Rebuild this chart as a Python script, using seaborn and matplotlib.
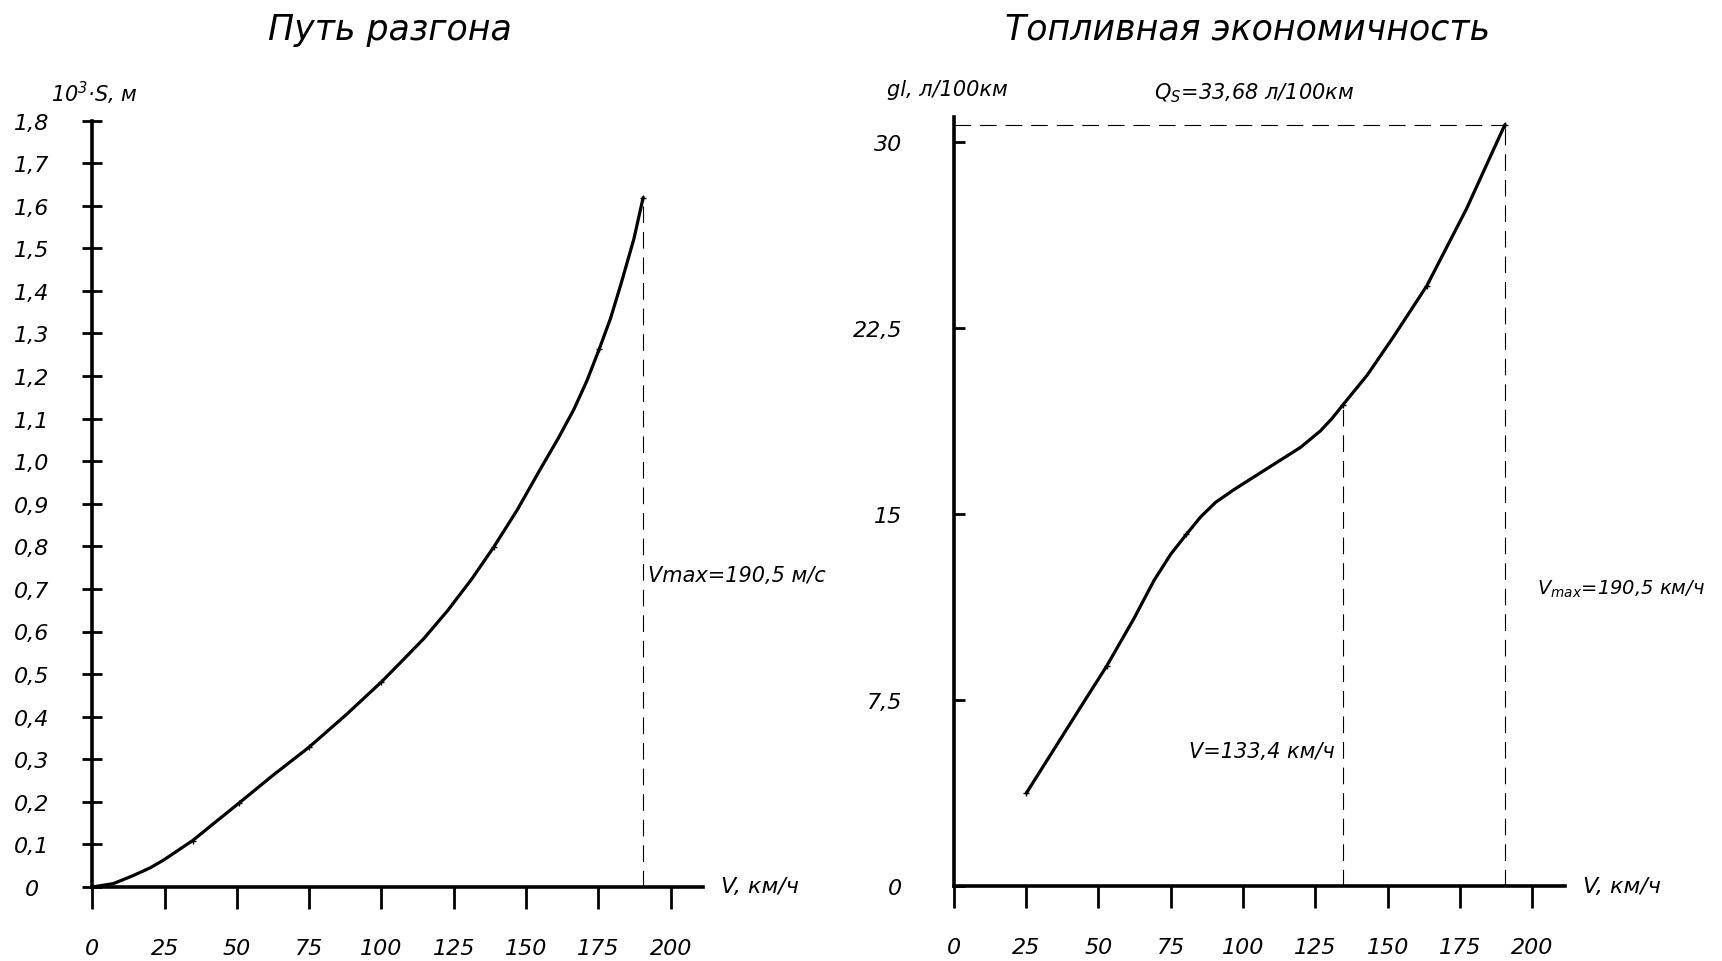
import numpy as np
import pandas as pd
import seaborn as sns
import matplotlib.pyplot as plt

# --- acceleration distance ---
speed_s = [0, 7.3, 14.2, 20.0, 24.6, 34.7, 42.5, 50.9, 62.6, 74.9, 87.7, 99.9,
           107.0, 114.6, 123.0, 131.3, 138.8, 147.0, 155.0, 161.0, 166.5, 171.0,
           175.3, 179.2, 182.7, 187.3, 190.5]
dist_s = [0, 0.008, 0.027, 0.045, 0.063, 0.109, 0.152, 0.198, 0.263, 0.328, 0.404,
          0.481, 0.530, 0.583, 0.650, 0.724, 0.798, 0.886, 0.982, 1.052, 1.121, 1.188,
          1.263, 1.335, 1.413, 1.522, 1.619]
mark_speed_s = [0, 34.7, 50.9, 74.9, 99.9, 138.8, 175.3, 190.5]
mark_dist_s = [0, 0.109, 0.198, 0.328, 0.481, 0.798, 1.263, 1.619]

# --- fuel economy ---
speed_q = [25.1, 45.6, 52.8, 62.2, 69.2, 75.0, 80.4, 85.3, 90.5, 96.8, 108.4, 119.9,
           126.8, 130.8, 134.5, 142.9, 152.0, 163.5, 177.2, 190.5]
fuel_q = [3.75, 7.54, 8.86, 10.77, 12.32, 13.38, 14.18, 14.88, 15.47, 15.98, 16.84,
          17.69, 18.36, 18.86, 19.40, 20.60, 22.15, 24.2, 27.3, 30.7]
mark_speed_q = [25.1, 52.8, 80.4, 134.5, 163.5, 190.5]
mark_fuel_q = [3.75, 8.86, 14.18, 19.40, 24.2, 30.7]

v_max = 190.5
s_at_vmax = 1.619
q_at_vmax = 30.7
v_econ = 134.5
q_at_econ = 19.40

v_ticks = [0, 25, 50, 75, 100, 125, 150, 175, 200]
s_ticks = [i / 10 for i in range(19)]
s_tick_labels = [f"{t:.1f}".replace(".", ",") if t > 0 else "0" for t in s_ticks]
q_ticks = [0, 7.5, 15, 22.5, 30]
q_tick_labels = ["0", "7,5", "15", "22,5", "30"]

sns.set_theme(style="white")
plt.rcParams["font.family"] = ["DejaVu Sans"]
plt.rcParams["font.style"] = "italic"
plt.rcParams["text.color"] = "black"
plt.rcParams["xtick.color"] = "black"
plt.rcParams["ytick.color"] = "black"

W, H = 1722, 962


def px(x, y):
    return x / W, 1 - y / H


fig = plt.figure(figsize=(W / 100, H / 100), dpi=100)
ax1 = fig.add_axes([92.3 / W, 1 - 888 / H, 611 / W, 766.5 / H])
ax2 = fig.add_axes([953.8 / W, 1 - 887 / H, 611 / W, 768.8 / H])

df_s = pd.DataFrame({"v": speed_s, "s": dist_s})
df_sm = pd.DataFrame({"v": mark_speed_s, "s": mark_dist_s})
df_q = pd.DataFrame({"v": speed_q, "q": fuel_q})
df_qm = pd.DataFrame({"v": mark_speed_q, "q": mark_fuel_q})

sns.lineplot(data=df_s, x="v", y="s", ax=ax1, color="black", linewidth=2.3,
             sort=False, estimator=None, zorder=3)
sns.scatterplot(data=df_sm, x="v", y="s", ax=ax1, color="black", marker="+",
                s=25, linewidth=1.0, zorder=4)
sns.lineplot(data=df_q, x="v", y="q", ax=ax2, color="black", linewidth=2.3,
             sort=False, estimator=None, zorder=3)
sns.scatterplot(data=df_qm, x="v", y="q", ax=ax2, color="black", marker="+",
                s=25, linewidth=1.0, zorder=4)

dash = (0, (15, 8))
ax1.vlines(v_max, 0, s_at_vmax, colors="black", linestyles=dash, linewidth=0.8)
ax2.vlines(v_max, 0, q_at_vmax, colors="black", linestyles=dash, linewidth=0.8)
ax2.vlines(v_econ, 0, q_at_econ, colors="black", linestyles=dash, linewidth=0.8)
ax2.hlines(q_at_vmax, 0, v_max, colors="black", linestyles=dash, linewidth=0.8)

for ax in (ax1, ax2):
    ax.set_facecolor("none")
    for side in ("top", "right"):
        ax.spines[side].set_visible(False)
    for side in ("left", "bottom"):
        ax.spines[side].set_linewidth(2.6)
        ax.spines[side].set_color("black")
    ax.set_xticks(v_ticks)
    ax.set_xticklabels([str(t) for t in v_ticks])
    ax.tick_params(axis="x", direction="out", length=16, width=2, pad=21,
                   labelsize=16, bottom=True)
    ax.set_xlabel("")
    ax.set_ylabel("")
    ax.grid(False)

ax1.set_xlim(0, 211.3)
ax1.set_ylim(0, 1.8)
ax1.set_yticks(s_ticks)
ax1.set_yticklabels(s_tick_labels)
ax1.tick_params(axis="y", direction="inout", length=14, width=2, pad=36.7,
                labelsize=16, left=True)
for lab in ax1.get_yticklabels():
    lab.set_horizontalalignment("center")

ax2.set_xlim(0, 211.2)
ax2.set_ylim(0, 31)
ax2.set_yticks(q_ticks)
ax2.set_yticklabels(q_tick_labels)
ax2.tick_params(axis="y", direction="in", length=8, width=2, pad=37,
                labelsize=16, left=True)

# titles and annotations
fig.text(*px(390, 30), "Путь разгона", ha="center", va="center", fontsize=25)
fig.text(*px(1248, 30), "Топливная экономичность", ha="center", va="center", fontsize=25)
fig.text(*px(51, 93), r"$\mathregular{10^3}$·S, м", ha="left", va="center", fontsize=15)
fig.text(*px(887, 90), "gl, л/100км", ha="left", va="center", fontsize=15)
fig.text(*px(1254, 93), r"Q$_\mathregular{S}$=33,68 л/100км", ha="center", va="center", fontsize=15)
fig.text(*px(648, 576), "Vmax=190,5 м/с", ha="left", va="center", fontsize=15)
fig.text(*px(1537, 589), r"V$_\mathregular{max}$=190,5 км/ч", ha="left", va="center", fontsize=14)
fig.text(*px(1189, 752), "V=133,4 км/ч", ha="left", va="center", fontsize=15)
fig.text(*px(721, 887), "V, км/ч", ha="left", va="center", fontsize=16)
fig.text(*px(1583, 887), "V, км/ч", ha="left", va="center", fontsize=16)

fig.savefig("out.png", dpi=100, facecolor="white")
